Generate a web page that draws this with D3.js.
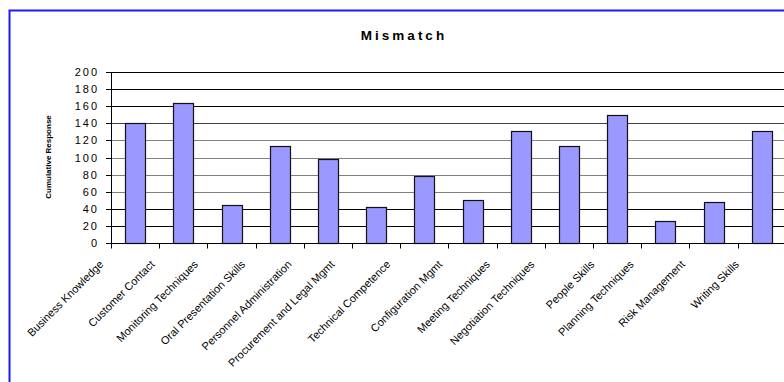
<!DOCTYPE html>
<head>
  <script src="https://d3js.org/d3.v7.min.js"></script>
  <meta charset='utf-8'>
  <title>Mismatch</title>
  <style>
    body {
      margin: 0;
      background: #fff;
    }
    svg text {
      font-family: Arial, "Liberation Sans", sans-serif;
      fill: #000;
    }
  </style>
</head>

<body>
  <div id="chart"></div>

  <script>

// data
var categories = ["Business Knowledge", "Customer Contact", "Monitoring Techniques",
  "Oral Presentation Skills", "Personnel Administration", "Procurement and Legal Mgmt",
  "Technical Competence", "Configuration Mgmt", "Meeting Techniques",
  "Negotiation Techniques", "People Skills", "Planning Techniques",
  "Risk Management", "Writing Skills"];
var responses = [140, 164, 44, 114, 98, 42, 78, 50, 131, 114, 150, 26, 48, 131];
var yTicks = [0, 20, 40, 60, 80, 100, 120, 140, 160, 180, 200];
var title = "Mismatch";
var yTitle = "Cumulative Response";

var W = 784, H = 382;
var margin = {top: 72, left: 111, bottom: 139};

var svg = d3.select("#chart").append("svg")
    .attr("width", W)
    .attr("height", H);

// blue outer frame, runs off the right and bottom edges
svg.append("rect")
    .attr("x", 9.5)
    .attr("y", 10.5)
    .attr("width", W + 40)
    .attr("height", H + 40)
    .attr("fill", "none")
    .attr("stroke", "#1a1aff")
    .attr("stroke-width", 2);

const x = d3.scaleBand()
    .domain(categories)
    .range([margin.left, margin.left + 14 * 48.2])
    .paddingInner(0.59)
    .paddingOuter(0.295);

const y = d3.scaleLinear()
    .domain([0, 200])
    .range([H - margin.bottom, margin.top]);

function crisp(v) { return Math.round(v) + 0.5; }

// gridlines
svg.append("g")
  .selectAll("line")
  .data(yTicks.filter(d => d > 0))
  .join("line")
    .attr("x1", margin.left)
    .attr("x2", W + 10)
    .attr("y1", d => crisp(y(d)))
    .attr("y2", d => crisp(y(d)))
    .attr("stroke", d => (d >= 60 && d <= 120) ? "#808080" : (d == 140 ? "#404040" : "#000"))
    .attr("stroke-width", 1);

// bars
svg.append("g")
  .selectAll("rect")
  .data(responses)
  .join("rect")
    .attr("x", (d, i) => Math.round(x(categories[i])) + 0.5)
    .attr("y", d => Math.round(y(d)) + 0.5)
    .attr("width", Math.round(x.bandwidth()))
    .attr("height", d => Math.round(y(0)) - Math.round(y(d)))
    .attr("fill", "#9999ff")
    .attr("stroke", "#111")
    .attr("stroke-width", 1.2);

// y axis
const yAxis = svg.append("g")
    .attr("transform", `translate(${crisp(margin.left) - 0.5},0)`)
    .call(d3.axisLeft(y).tickValues(yTicks).tickSize(5).tickPadding(9).tickSizeOuter(0));
yAxis.select(".domain").attr("stroke", "#000");
yAxis.selectAll(".tick line").attr("stroke", "#000");
yAxis.selectAll(".tick").attr("transform", d => `translate(0,${crisp(y(d))})`);
yAxis.selectAll("text")
    .style("font-size", "11px")
    .style("letter-spacing", "2px")
    .attr("fill", "#000")
    .attr("x", -12)
    .attr("dy", "0.35em");

// x axis line + ticks at category boundaries
const x0 = y(0);
svg.append("line")
    .attr("x1", margin.left)
    .attr("x2", W + 10)
    .attr("y1", crisp(x0))
    .attr("y2", crisp(x0))
    .attr("stroke", "#000");

const step = x.step();
svg.append("g")
  .selectAll("line")
  .data(categories)
  .join("line")
    .attr("x1", c => crisp(x(c) + x.bandwidth() / 2 - step / 2))
    .attr("x2", c => crisp(x(c) + x.bandwidth() / 2 - step / 2))
    .attr("y1", crisp(x0))
    .attr("y2", crisp(x0) + 5)
    .attr("stroke", "#000");

// rotated category labels (Excel shifts the longer ones further left)
svg.append("g")
  .selectAll("text")
  .data(categories)
  .join("text")
    .style("font-size", "11px")
    .attr("text-anchor", "end")
    .text(d => d)
    .each(function(d) {
      var L = this.getComputedTextLength();
      var cx = x(d) + x.bandwidth() / 2 - 7.5 - 0.23 * L;
      var cy = 265;
      d3.select(this).attr("transform", `translate(${cx},${cy}) rotate(-45)`);
    });

// title
svg.append("text")
    .attr("x", 404)
    .attr("y", 40)
    .attr("text-anchor", "middle")
    .style("font-size", "13.5px")
    .style("font-weight", "bold")
    .style("letter-spacing", "3px")
    .text(title);

// y axis title
svg.append("text")
    .attr("transform", "translate(51,157) rotate(-90)")
    .attr("text-anchor", "middle")
    .style("font-size", "8px")
    .style("font-weight", "bold")
    .text(yTitle);

</script>
</body>
